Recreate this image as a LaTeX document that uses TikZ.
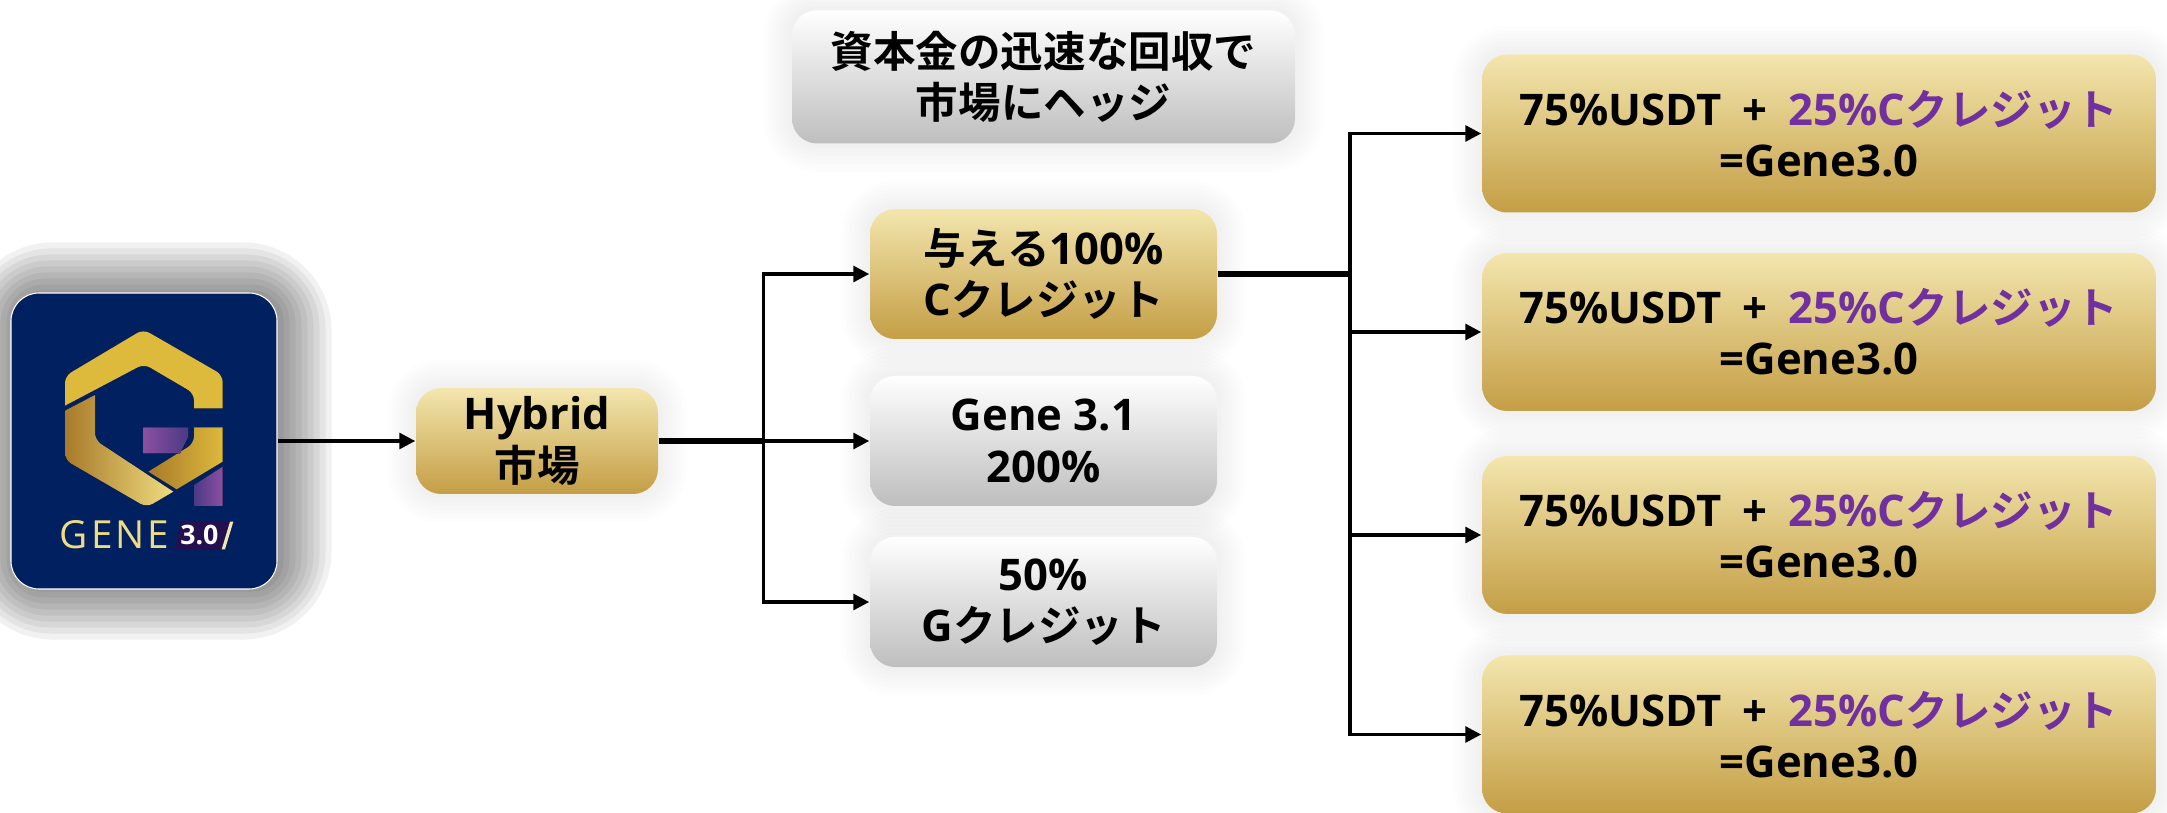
\documentclass[tikz,border=0pt]{standalone}
\usepackage{fontspec}
\setmainfont{Open Sans}
\newfontfamily\cjk{Noto Sans CJK JP}[BoldFont={Noto Sans CJK JP Bold}, Scale=0.975]
\newcommand{\jp}[1]{{\cjk\bfseries #1}}
\usetikzlibrary{arrows.meta,calc,backgrounds}

\definecolor{goldtop}{HTML}{F3E6AE}
\definecolor{goldbot}{HTML}{C49E45}
\definecolor{greybot}{HTML}{BEBEBE}
\definecolor{navy}{HTML}{002060}
\definecolor{violet}{HTML}{7030A0}
\definecolor{logogold}{HTML}{DDB93C}
\definecolor{logopale}{HTML}{F4E7A6}
\definecolor{logodark}{HTML}{A87A2A}
\definecolor{logomid}{HTML}{D8B450}
\definecolor{logotext}{HTML}{F0DC80}
\definecolor{logopurple}{HTML}{8C4FA0}
\definecolor{logoindigo}{HTML}{4A3A85}
\definecolor{logotag}{HTML}{24104F}

\tikzset{
  boxtext/.style={font=\fontsize{12.4}{14.6}\selectfont\bfseries, align=center, text=black},
  goldbox/.style={boxtext, rounded corners=0.25cm, top color=goldtop, bottom color=goldbot, inner sep=0pt},
  greybox/.style={boxtext, rounded corners=0.25cm, top color=white, bottom color=greybot, inner sep=0pt},
  boxsize/.style 2 args={minimum width=#1*0.01cm, minimum height=#2*0.01cm},
  trunk/.style={black, line width=1.5pt},
  conn/.style={black, line width=1.1pt, -{Triangle[length=4.5pt,width=4.4pt]}},
}

\begin{document}
\begin{tikzpicture}[x=0.01cm, y=-0.01cm]
  \useasboundingbox (0,0) rectangle (2167,813);

  % Left column
  \node[boxsize={266}{296}, fill=navy, draw=white, line width=0.3pt, rounded corners=0.28cm, inner sep=0pt] (logo) at (144,441) {};
  \node[goldbox, boxsize={242}{106}] (hybrid) at (537,441) {Hybrid\\\jp{市場}};

  % Middle column
  \node[greybox, boxsize={503}{133}] (hedge) at (1043.5,77) {\jp{資本金の迅速な回収で}\\\jp{市場にヘッジ}};
  \node[goldbox, boxsize={347}{130}] (give) at (1043.5,274) {\jp{与える}100\%\\C\jp{クレジット}};
  \node[greybox, boxsize={347}{130}] (gene) at (1043.5,441) {Gene 3.1\\200\%};
  \node[greybox, boxsize={347}{130}] (gcredit) at (1043.5,602) {50\%\\G\jp{クレジット}};

  % Right column
  \foreach \n/\y in {mixa/133.5, mixb/332, mixc/535, mixd/734.5}
    \node[goldbox, boxsize={674}{158}] (\n) at (1819,\y) {75\%USDT\hspace{2.7pt} + \hspace{2.7pt}\textcolor{violet}{25\%C\jp{クレジット}}\\=Gene3.0};

  % Shadows
  \begin{scope}[on background layer]
    \foreach \r in {50,44,38,32,26,20,14,8,2}
      \fill[black, opacity=0.055, rounded corners={0.28cm+1.2*\r*0.01cm}]
        ($(logo.south west)+(4-\r,\r)$) rectangle ($(logo.north east)+(4+\r,-\r)$);
    \foreach \n in {hybrid,hedge,give,gene,gcredit,mixa,mixb,mixc,mixd}
      \foreach \r in {28,24,20,16,12,8,4}
        \fill[black, opacity=0.008, rounded corners={0.25cm+\r*0.01cm}]
          ($(\n.south west)+(-\r,\r)$) rectangle ($(\n.north east)+(\r,-\r)$);
  \end{scope}

  % Logo mark
  \begin{scope}[shift={(0,240)}, x=0.01cm/3, y=-0.01cm/3]
    \fill[left color=logogold, middle color=logopale, right color=logogold]
      (195,497) [rounded corners=2pt] -- (195,408) -- (430,268) -- (668,405) [sharp corners] -- (668,505) -- (582,505) [rounded corners=2pt] -- (582,460) -- (432,372) [sharp corners] -- cycle;
    \fill[left color=logodark, middle color=logomid, right color=logotext]
      (195,512) -- (285,465) [rounded corners=2pt] -- (285,600) [sharp corners] -- (520,755) [rounded corners=2pt] -- (440,802) -- (195,660) [sharp corners] -- cycle;
    \fill[left color=logodark, middle color=logopale, right color=logogold]
      (668,562) -- (582,562) [rounded corners=2pt] -- (582,610) [sharp corners] -- (445,695) -- (530,748) -- (668,665) -- cycle;
    \fill[left color=logopurple, right color=logoindigo]
      (430,562) -- (565,562) -- (565,590) -- (540,640) -- (430,640) -- cycle;
    \fill[left color=logoindigo, right color=logopurple]
      (582,735) -- (668,680) -- (668,798) -- (582,798) -- cycle;
    \fill[logotag] (522,928) -- (545,845) -- (690,845) -- (665,928) -- cycle;
    \fill[goldtop] (665,928) -- (690,845) -- (700,845) -- (675,928) -- cycle;
    \node[text=logotext, font=\fontsize{11}{11}\selectfont, inner sep=0pt] (genetext) at (344,885) {\addfontfeature{LetterSpace=8}GENE};
    \node[text=white, font=\fontsize{7.6}{8}\selectfont\bfseries, inner sep=0pt] (vertext) at (598,886) {3.0};
  \end{scope}

  % Connectors
  \coordinate (splitl) at (763.5,441);
  \coordinate (splitr) at (1350,274);
  \draw[conn] (logo) -- (hybrid);
  \draw[trunk] (hybrid) -- (splitl);
  \draw[conn] (splitl) |- (give);
  \draw[conn] (splitl) -- (gene);
  \draw[conn] (splitl) |- (gcredit);
  \draw[trunk] (give) -- (splitr);
  \foreach \n in {mixa,mixb,mixc,mixd}
    \draw[conn] (splitr) |- (\n);
\end{tikzpicture}
\end{document}
